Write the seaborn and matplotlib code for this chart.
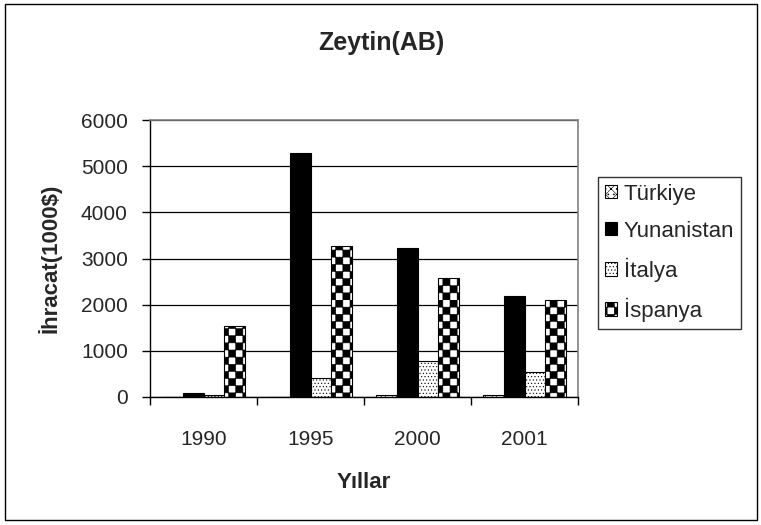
import numpy as np
import pandas as pd
import matplotlib
matplotlib.use("Agg")
import matplotlib.pyplot as plt
import matplotlib.hatch as mhatch
from matplotlib.path import Path
from matplotlib.patches import Rectangle
import seaborn as sns

# data
years = ['1990', '1995', '2000', '2001']
turkiye = [0, 0, 50, 40]
yunanistan = [96, 5280, 3230, 2185]
italya = [52, 420, 780, 550]
ispanya = [1540, 3260, 2580, 2100]

countries = ['Türkiye', 'Yunanistan', 'İtalya', 'İspanya']
faces = ['white', 'black', 'white', 'white']
hatches = ['xxx...', '', '.....', 'OO']


# checkerboard hatch (replaces the big-circle hatch 'O')
class CheckerHatch(mhatch.HatchPatternBase):
    def __init__(self, hatch, density):
        self.n = hatch.count('O') * 7
        self.filled = True
        self.num_vertices = (self.n * self.n // 2) * 5

    def set_vertices_and_codes(self, vertices, codes):
        n = self.n
        k = 0
        for i in range(n):
            for j in range(n):
                if (i + j) % 2:
                    continue
                x0, y0, x1, y1 = i / n, j / n, (i + 1) / n, (j + 1) / n
                vertices[k:k + 5] = [[x0, y0], [x1, y0], [x1, y1], [x0, y1], [x0, y0]]
                codes[k:k + 5] = [Path.MOVETO, Path.LINETO, Path.LINETO,
                                  Path.LINETO, Path.CLOSEPOLY]
                k += 5


mhatch._hatch_types = [CheckerHatch if t is mhatch.LargeCircles else t
                       for t in mhatch._hatch_types]

df = pd.DataFrame({'Yıl': years * 4,
                   'Ülke': sum([[c] * 4 for c in countries], []),
                   'val': turkiye + yunanistan + italya + ispanya})

sns.set_style('white')
plt.rcParams['font.family'] = ['Liberation Sans', 'DejaVu Sans']
plt.rcParams['hatch.linewidth'] = 0.4
plt.rcParams['hatch.color'] = 'black'

fig = plt.figure(figsize=(7.61, 5.25), dpi=100)
ax = fig.add_axes([150 / 761, 1 - 397 / 525, 428 / 761, 277 / 525])

sns.barplot(data=df, x='Yıl', y='val', hue='Ülke', hue_order=countries,
            palette=dict(zip(countries, faces)), width=0.77, ax=ax,
            edgecolor='black', linewidth=0.8, saturation=1, errorbar=None)

for cont, fc, h in zip(ax.containers, faces, hatches):
    for p in cont:
        p.set_facecolor(fc)
        p.set_edgecolor('black')
        p.set_hatch(h)

ax.legend_.remove()

ax.set_ylim(0, 6000)
ax.set_xlim(-0.5, 3.5)
ax.set_yticks(range(0, 6001, 1000))
ax.yaxis.grid(True, color='black', linewidth=0.9)
ax.set_axisbelow(True)
ax.set_xticks([-0.5, 0.5, 1.5, 2.5, 3.5])
ax.set_xticklabels([])
ax.set_xticks(range(4), minor=True)
ax.set_xticklabels(years, minor=True)
ax.tick_params(axis='x', which='major', length=6, width=1, color='black', direction='out')
ax.tick_params(axis='x', which='minor', length=0, labelsize=15, pad=24)
ax.tick_params(axis='y', length=6, width=1, color='black', direction='out',
               labelsize=15, pad=10)
ax.tick_params(bottom=True, left=True)

for s in ['left', 'bottom']:
    ax.spines[s].set_color('black')
    ax.spines[s].set_linewidth(1)
for s in ['top', 'right']:
    ax.spines[s].set_color('#808080')
    ax.spines[s].set_linewidth(1.2)

ax.set_xlabel('Yıllar', fontsize=16, fontweight='bold', labelpad=16)
ax.set_ylabel('İhracat(1000$)', fontsize=16, fontweight='bold', labelpad=14)

fig.text(381 / 761, 1 - 43 / 525, 'Zeytin(AB)', ha='center', va='center',
         fontsize=18, fontweight='bold')

leg = fig.legend(ax.containers, countries, loc='upper left',
                 bbox_to_anchor=(598 / 761, 1 - 177 / 525), borderaxespad=0,
                 fontsize=16, handlelength=0.55, handleheight=0.55,
                 handletextpad=0.3, labelspacing=0.72, borderpad=0.3,
                 fancybox=False, frameon=True)
leg.get_frame().set_edgecolor('black')
leg.get_frame().set_linewidth(1)

fig.patches.append(Rectangle((5 / 761, 5 / 525), 752 / 761, 516 / 525,
                             transform=fig.transFigure, fill=False,
                             edgecolor='black', linewidth=1))

fig.savefig('out.png', dpi=100)
